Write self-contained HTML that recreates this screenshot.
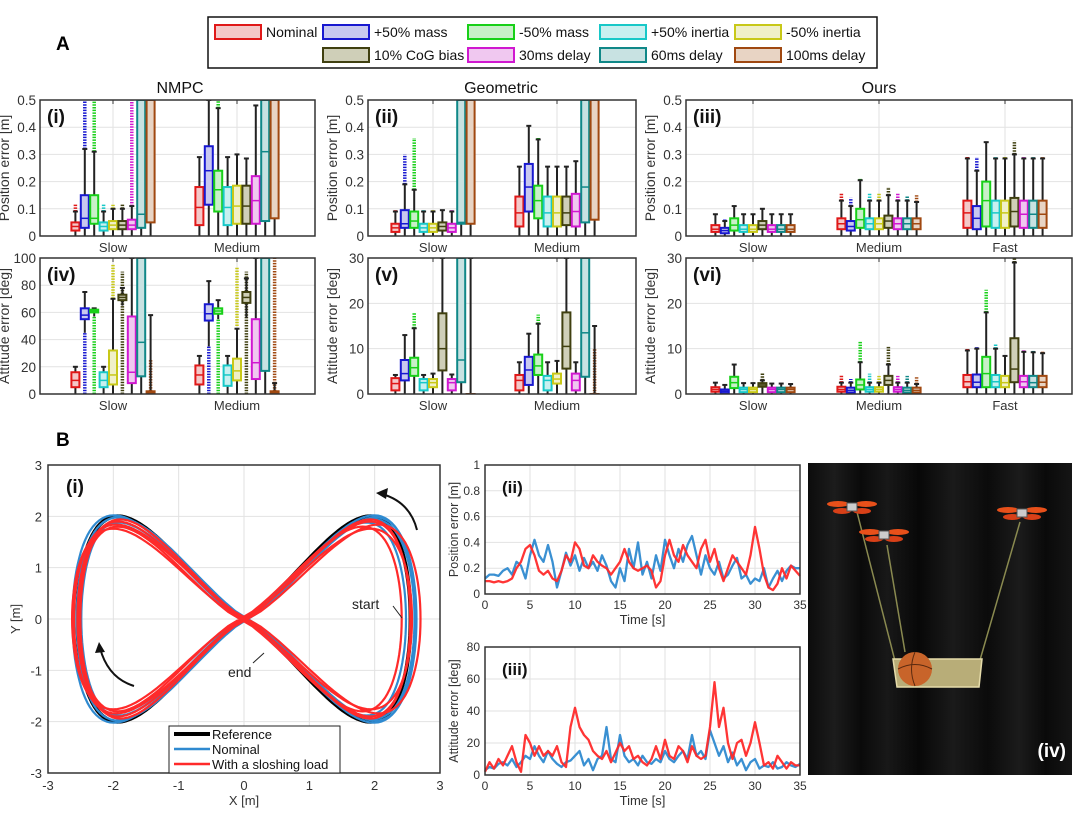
<!DOCTYPE html>
<html><head><meta charset="utf-8">
<style>
html,body{margin:0;padding:0;background:#fff;}
svg{display:block;font-family:"Liberation Sans","DejaVu Sans",sans-serif;}
</style></head>
<body>
<svg id="fig" width="1080" height="815" viewBox="0 0 1080 815" xmlns="http://www.w3.org/2000/svg">
<defs>
<linearGradient id="curtain" x1="0" x2="1" y1="0" y2="0">
<stop offset="0" stop-color="#0c0c0c"/><stop offset="0.1" stop-color="#1c1c1c"/><stop offset="0.2" stop-color="#0a0a0a"/><stop offset="0.3" stop-color="#181818"/><stop offset="0.42" stop-color="#080808"/><stop offset="0.55" stop-color="#1a1a1a"/><stop offset="0.68" stop-color="#0b0b0b"/><stop offset="0.8" stop-color="#1b1b1b"/><stop offset="0.9" stop-color="#0a0a0a"/><stop offset="1" stop-color="#151515"/>
</linearGradient>
</defs>
</svg>
<script>
// ====== DATA ======
const legendLabels = ["Nominal","+50% mass","-50% mass","+50% inertia","-50% inertia","10% CoG bias","30ms delay","60ms delay","100ms delay"];
const strokeColors = ["#e01818","#1818d0","#18d018","#18c8c8","#c8c818","#404010","#d018d0","#108888","#a04810"];
const fillColors = ["#f4c8c8","#c8c8f0","#c8f0c8","#c8f0f0","#f0f0c8","#cfcfb8","#f0c8f0","#c8e2e2","#e8d4c4"];
// each entry: [whiskerLow, q1, median, q3, whiskerHigh, outlierFrom, outlierTo]
const nmpcPos = [
 [[0,.02,.035,.05,.09,.09,.12],[0,.03,.065,.15,.32,.32,.5],[0,.045,.065,.15,.31,.31,.5],[0,.02,.035,.05,.09,.09,.12],[0,.025,.04,.055,.1,.1,.115],[0,.025,.04,.055,.1,.1,.12],[0,.025,.04,.06,.11,.11,.5],[0,.03,.08,.5,.5,0,0],[0,.05,.5,.5,.5,0,0]],
 [[0,.04,.105,.18,.29,0,0],[0,.115,.24,.33,.5,0,0],[0,.09,.17,.24,.47,.47,.5],[0,.04,.105,.18,.29,0,0],[0,.045,.11,.185,.3,0,0],[0,.045,.11,.185,.285,0,0],[0,.045,.13,.22,.48,0,0],[0,.055,.31,.5,.5,0,0],[0,.065,.5,.5,.5,0,0]]
];
const nmpcAtt = [
 [[0,5,10,16,20,0,0],[45,55,58,63,75,0,45],[57,60,61,62,63,0,57],[0,5,10,16,20,0,0],[0,7,14,32,70,70,95],[65,69,71,73,78,0,90],[0,8,16,57,100,0,0],[0,13,38,100,100,0,0],[0,0,1,2,58,0,25]],
 [[0,7,14,21,28,0,0],[35,54,59,66,83,0,35],[55,59,61,63,69,0,55],[0,6,14,21,28,0,0],[0,10,17,26,48,50,93],[56,67,71,75,85,0,90],[0,11,23,55,100,0,0],[0,17,100,100,100,0,0],[0,0,1,2,8,0,100]]
];
const geoPos = [
 [[0,.015,.03,.045,.09,.09,.095],[0,.03,.045,.095,.19,.19,.3],[0,.03,.055,.09,.17,.17,.36],[0,.015,.03,.045,.09,.09,.095],[0,.015,.03,.045,.09,.09,.095],[0,.02,.035,.05,.095,0,0],[0,.015,.03,.045,.09,.09,.095],[0,.045,.05,.5,.5,0,0],[0,.045,.5,.5,.5,0,0]],
 [[0,.035,.085,.145,.255,0,0],[0,.09,.18,.265,.405,0,0],[0,.065,.13,.185,.355,.355,.365],[0,.035,.085,.145,.255,0,0],[0,.035,.085,.145,.255,0,0],[0,.04,.085,.145,.255,0,0],[0,.035,.09,.155,.275,0,0],[0,.05,.18,.5,.5,0,0],[0,.06,.5,.5,.5,0,0]]
];
const geoAtt = [
 [[0,.8,2.3,3.5,4.2,0,0],[0,3,4.5,7.5,13,0,0],[0,4,5.8,8,14.5,14.5,18],[0,.8,2.5,3.3,4.2,0,0],[0,1.5,2.5,3.3,4.5,0,0],[0,5.2,10,17.8,30,0,0],[0,.8,2.5,3.3,4.3,0,0],[0,2.6,7.5,30,30,0,0],[0,0,0,0,30,0,0]],
 [[0,.8,3,4.2,7,0,0],[0,2,5.3,8.2,13.3,0,0],[0,4.2,6.2,8.7,15.5,15.5,17.5],[0,.8,3,4,7,0,0],[0,2.3,3.3,4.5,7.3,0,0],[0,5.6,10.5,18,30,0,0],[0,.8,3,4.5,7,0,0],[0,3.8,13.5,30,30,0,0],[0,0,0,0,15,0,10]]
];
const oursPos = [
 [[0,.015,.025,.04,.08,0,0],[0,.01,.02,.03,.055,.055,.065],[0,.02,.04,.065,.11,0,0],[0,.015,.025,.04,.08,0,0],[0,.015,.025,.04,.08,0,0],[0,.025,.04,.055,.1,0,0],[0,.015,.025,.04,.08,0,0],[0,.015,.025,.04,.08,0,0],[0,.015,.025,.04,.08,0,0]],
 [[0,.025,.045,.065,.13,.13,.16],[0,.02,.035,.055,.11,.11,.14],[0,.03,.06,.1,.205,.205,.21],[0,.025,.045,.065,.13,.13,.16],[0,.025,.045,.065,.13,.13,.16],[0,.03,.055,.075,.15,.15,.18],[0,.025,.045,.065,.13,.13,.16],[0,.025,.045,.065,.13,.13,.15],[0,.025,.045,.065,.125,.125,.15]],
 [[0,.03,.085,.13,.285,.285,.295],[0,.025,.065,.11,.24,.24,.29],[0,.035,.13,.2,.345,0,0],[0,.03,.085,.13,.285,.285,.29],[0,.03,.085,.13,.285,.285,.295],[0,.035,.09,.14,.3,.3,.35],[0,.03,.08,.13,.285,.285,.29],[0,.03,.08,.13,.285,.285,.29],[0,.03,.08,.13,.285,.285,.29]]
];
const oursAtt = [
 [[0,.5,1,1.5,2.5,0,0],[0,.2,.6,1,2,0,0],[0,1.3,2.5,3.8,6.5,0,0],[0,.4,1,1.4,2.4,0,0],[0,.4,1,1.4,2.4,0,0],[0,1.6,2,2.4,3,3,4.7],[0,.4,1,1.4,2.3,0,0],[0,.4,1,1.4,2.3,0,0],[0,.4,1,1.4,2.2,0,0]],
 [[0,.5,1,1.6,2.5,2.5,4.2],[0,.3,.8,1.4,2.5,2.5,3.3],[0,1,2,3.2,7,7,11.5],[0,.5,1,1.5,2.5,2.5,4.5],[0,.5,1,1.5,2.5,2.5,4],[0,2,3,4,6.5,6.5,10.5],[0,.5,1,1.5,2.5,2.5,4],[0,.3,.8,1.4,2.5,2.5,4],[0,.3,.8,1.4,2.2,2.2,3.7]],
 [[0,1.5,2.7,4.2,9.6,9.6,10],[0,1.5,2.6,4.3,10,10,10.5],[0,1.5,4.5,8.2,18,18,23],[0,1.5,2.7,4.2,10,10,11],[0,1.5,2.5,4,8.4,0,0],[0,2.6,5.5,12.3,29,29,30],[0,1.5,2.7,4,9.3,9.3,9.8],[0,1.5,2.5,4,9.2,9.2,9.5],[0,1.5,2.6,4,9,9,9.5]]
];
const posTicks = [0,0.1,0.2,0.3,0.4,0.5];
const attTicksBig = [0,20,40,60,80,100];
const attTicksSmall = [0,10,20,30];

const timeX = [];
for (let i = 0; i <= 70; i++) timeX.push(i * 0.5);
const posNominal = [.12,.15,.15,.14,.18,.2,.15,.25,.22,.12,.3,.42,.3,.25,.38,.25,.05,.18,.32,.22,.3,.18,.28,.2,.25,.18,.3,.22,.1,.05,.2,.1,.35,.2,.4,.15,.25,.12,.3,.18,.42,.3,.2,.35,.25,.38,.45,.3,.15,.3,.2,.15,.25,.12,.15,.22,.28,.12,.15,.08,.12,.1,.2,.05,.12,.18,.1,.18,.22,.2,.2];
const posSloshing = [.1,.1,.09,.1,.09,.1,.12,.2,.25,.35,.38,.3,.18,.15,.18,.12,.1,.18,.3,.25,.4,.35,.22,.2,.3,.25,.22,.2,.15,.2,.25,.35,.25,.2,.18,.2,.22,.18,.05,.1,.3,.42,.3,.25,.38,.3,.25,.2,.35,.42,.25,.35,.2,.1,.2,.3,.25,.2,.15,.3,.52,.35,.15,.05,.03,.08,.2,.12,.22,.18,.14];
const attNominal = [3,5,4,7,8,6,10,5,8,12,10,18,12,8,15,10,7,5,8,9,12,15,6,10,3,10,12,30,10,8,25,12,8,10,6,12,8,7,10,8,15,10,8,12,15,10,25,12,15,10,28,20,12,18,8,14,6,10,3,8,10,4,6,5,8,4,5,8,6,5,7];
const attSloshing = [2,8,4,10,6,12,18,8,2,25,20,12,18,12,15,12,18,8,5,30,42,30,25,22,15,12,10,15,8,14,20,15,18,10,12,8,6,10,18,10,22,12,10,18,15,8,18,12,10,12,30,58,30,42,20,10,20,22,12,20,33,20,6,8,4,12,8,4,8,6,6];
const posTicksT = [0,0.2,0.4,0.6,0.8,1];
const attTicksT = [0,20,40,60,80];
const timeTicks = [0,5,10,15,20,25,30,35];

// figure-8 reference amplitudes and loop perturbations
const refAmp = [2.55, 2.0];
const nomLoopSx = [1.02, 0.98, 1.0, 1.03];
const nomLoopSy = [0.99, 0.94, 0.97, 1.01];
const nomLoopDx = [0.04, -0.02, 0.06, 0.0];
const slLoopSx = [1.0, 0.97, 1.04, 0.99, 1.02];
const slLoopSy = [0.95, 0.9, 0.92, 0.97, 0.88];
const slLoopDx = [0.0, -0.06, 0.05, 0.02, -0.03];
const xyTicks = [-3,-2,-1,0,1,2,3];

// ====== DRAW HELPERS ======
const svg = document.getElementById('fig');
const NS = 'http://www.w3.org/2000/svg';
function el(tag, attrs, parent) {
  const e = document.createElementNS(NS, tag);
  for (const k in attrs) e.setAttribute(k, attrs[k]);
  (parent || svg).appendChild(e);
  return e;
}
function txt(s, attrs, parent) { const t = el('text', attrs, parent); t.textContent = s; return t; }
let clipId = 0;

function boxPanel(name, x0, x1, y0, y1, ymin, ymax, ticks, cats, catX, groups, ylabel, tag) {
  const g = el('g', {});
  
  
  const Y = v => y1 - (Math.max(ymin, Math.min(ymax, v)) - ymin) / (ymax - ymin) * (y1 - y0);
  const cid = 'c' + (clipId++);
  const cp = el('clipPath', {id: cid}, g); el('rect', {x: x0, y: y0, width: x1 - x0, height: y1 - y0}, cp);
  el('rect', {x: x0, y: y0, width: x1 - x0, height: y1 - y0, fill: '#fff'}, g);
  ticks.forEach(t => {
    el('line', {x1: x0, x2: x1, y1: Y(t), y2: Y(t), stroke: '#e2e2e2', 'stroke-width': 1}, g);
    const tl = txt(String(t), {x: x0 - 4, y: Y(t) + 5, 'text-anchor': 'end', 'font-size': 13.5, fill: '#333'}, g);
    
    
  });
  catX.forEach((cx, i) => {
    el('line', {x1: cx, x2: cx, y1: y0, y2: y1, stroke: '#e2e2e2', 'stroke-width': 1}, g);
    el('line', {x1: cx, x2: cx, y1: y0, y2: y0 + 4, stroke: '#333', 'stroke-width': 1}, g);
    const cl = txt(cats[i], {x: cx, y: y1 + 16, 'text-anchor': 'middle', 'font-size': 13, fill: '#333'}, g);
    
    
  });
  const inner = el('g', {'clip-path': 'url(#' + cid + ')'}, g);
  groups.forEach((grp, gi) => {
    grp.forEach((d, k) => {
      const bx = catX[gi] + (k - 4) * 9.4;
      const c = strokeColors[k];
      const bg = el('g', {}, inner);
      
      
      if (d[6] > d[5]) el('line', {x1: bx, x2: bx, y1: Y(d[5]), y2: Y(d[6]), stroke: c, 'stroke-width': 3.5, 'stroke-dasharray': '1.5 1.2'}, bg);
      el('line', {x1: bx, x2: bx, y1: Y(d[0]), y2: Y(d[4]), stroke: '#222', 'stroke-width': 2}, bg);
      el('line', {x1: bx - 2.5, x2: bx + 2.5, y1: Y(d[4]), y2: Y(d[4]), stroke: '#222', 'stroke-width': 2}, bg);
      el('rect', {x: bx - 4, y: Y(d[3]), width: 8, height: Math.max(0.5, Y(d[1]) - Y(d[3])), fill: fillColors[k], stroke: c, 'stroke-width': 2}, bg);
      el('line', {x1: bx - 4, x2: bx + 4, y1: Y(d[2]), y2: Y(d[2]), stroke: c, 'stroke-width': 1.5}, bg);
    });
  });
  el('rect', {x: x0, y: y0, width: x1 - x0, height: y1 - y0, fill: 'none', stroke: '#333', 'stroke-width': 1.5}, g);
  const yl = txt(ylabel, {x: 0, y: 0, transform: 'translate(' + (x0 - 31) + ',' + ((y0 + y1) / 2) + ') rotate(-90)', 'text-anchor': 'middle', 'font-size': 14, fill: '#333'}, g);
  
  
  const tg = txt(tag, {x: x0 + 7, y: y0 + 23, 'font-size': 19, 'font-weight': 'bold', fill: '#111'}, g);
  
  
}

// ====== PANEL A ======
const A = txt('A', {x: 56, y: 50, 'font-size': 19, 'font-weight': 'bold'});
 
// legend
const lg = el('g', {});
 
el('rect', {x: 208, y: 17, width: 669, height: 51, fill: '#fff', stroke: '#111', 'stroke-width': 1.5}, lg);
const legPos = [[215,25],[323,25],[468,25],[600,25],[735,25],[323,48],[468,48],[600,48],[735,48]];
legendLabels.forEach((s, i) => {
  const e = el('g', {}, lg);
  
  
  el('rect', {x: legPos[i][0], y: legPos[i][1], width: 46, height: 14, fill: fillColors[i], stroke: strokeColors[i], 'stroke-width': 2}, e);
  txt(s, {x: legPos[i][0] + 51, y: legPos[i][1] + 12, 'font-size': 14, fill: '#111'}, e);
});
[['NMPC',180],['Geometric',501],['Ours',879]].forEach(p => {
  const t = txt(p[0], {x: p[1], y: 93, 'text-anchor': 'middle', 'font-size': 16, fill: '#111'});
   
});
boxPanel('nmpc-position-chart', 40, 315, 100, 236, 0, 0.5, posTicks, ['Slow','Medium'], [113, 237], nmpcPos, 'Position error [m]', '(i)');
boxPanel('geometric-position-chart', 368, 636, 100, 236, 0, 0.5, posTicks, ['Slow','Medium'], [433, 557], geoPos, 'Position error [m]', '(ii)');
boxPanel('ours-position-chart', 686, 1072, 100, 236, 0, 0.5, posTicks, ['Slow','Medium','Fast'], [753, 879, 1005], oursPos, 'Position error [m]', '(iii)');
boxPanel('nmpc-attitude-chart', 40, 315, 258, 394, 0, 100, attTicksBig, ['Slow','Medium'], [113, 237], nmpcAtt, 'Attitude error [deg]', '(iv)');
boxPanel('geometric-attitude-chart', 368, 636, 258, 394, 0, 30, attTicksSmall, ['Slow','Medium'], [433, 557], geoAtt, 'Attitude error [deg]', '(v)');
boxPanel('ours-attitude-chart', 686, 1072, 258, 394, 0, 30, attTicksSmall, ['Slow','Medium','Fast'], [753, 879, 1005], oursAtt, 'Attitude error [deg]', '(vi)');

// ====== PANEL B ======
const B = txt('B', {x: 56, y: 446, 'font-size': 19, 'font-weight': 'bold'});
 

// (i) trajectory
(function(){
  const x0 = 48, x1 = 440, y0 = 465, y1 = 773;
  const X = v => x0 + (v + 3) / 6 * (x1 - x0);
  const Y = v => y1 - (v + 3) / 6 * (y1 - y0);
  const g = el('g', {});
   
  el('rect', {x: x0, y: y0, width: x1 - x0, height: y1 - y0, fill: '#fff'}, g);
  xyTicks.forEach(t => {
    el('line', {x1: X(t), x2: X(t), y1: y0, y2: y1, stroke: '#e2e2e2'}, g);
    el('line', {x1: x0, x2: x1, y1: Y(t), y2: Y(t), stroke: '#e2e2e2'}, g);
    txt(String(t), {x: X(t), y: y1 + 17, 'text-anchor': 'middle', 'font-size': 13, fill: '#333'}, g);
    txt(String(t), {x: x0 - 6, y: Y(t) + 5, 'text-anchor': 'end', 'font-size': 13, fill: '#333'}, g);
  });
  function loop(sx, sy, dx, color, w, name) {
    let d = '';
    for (let i = 0; i <= 160; i++) {
      const t = i / 160 * 2 * Math.PI;
      const s = Math.sin(t);
      const px = refAmp[0] * sx * Math.sign(s) * Math.pow(Math.abs(s), 0.8) + dx;
      const py = refAmp[1] * sy * Math.sin(2 * t);
      d += (i ? 'L' : 'M') + X(px).toFixed(1) + ',' + Y(py).toFixed(1);
    }
    const p = el('path', {d: d, fill: 'none', stroke: color, 'stroke-width': w, 'stroke-linejoin': 'round'}, g);
    
    
  }
  loop(1, 1, 0, '#000', 4, 'reference-line');
  nomLoopSx.forEach((s, i) => loop(s, nomLoopSy[i], nomLoopDx[i], '#2f8ad0', 2.2, 'nominal-line'));
  slLoopSx.forEach((s, i) => loop(s, slLoopSy[i], slLoopDx[i], '#ff2a2a', 2.2, 'sloshing-line'));
  el('rect', {x: x0, y: y0, width: x1 - x0, height: y1 - y0, fill: 'none', stroke: '#333', 'stroke-width': 1.5}, g);
  // arrows
  el('path', {d: 'M417,530 Q410,502 382,494', fill: 'none', stroke: '#111', 'stroke-width': 2}, g);
  el('path', {d: 'M376,493 L388,488 L386,499 Z', fill: '#111'}, g);
  el('path', {d: 'M134,686 Q108,678 100,648', fill: 'none', stroke: '#111', 'stroke-width': 2}, g);
  el('path', {d: 'M99,642 L95,653 L105,652 Z', fill: '#111'}, g);
  txt('start', {x: 352, y: 609, 'font-size': 14, fill: '#222'}, g);
  el('line', {x1: 393, y1: 606, x2: 402, y2: 618, stroke: '#222', 'stroke-width': 1}, g);
  txt('end', {x: 228, y: 677, 'font-size': 14, fill: '#222'}, g);
  el('line', {x1: 253, y1: 663, x2: 264, y2: 653, stroke: '#222', 'stroke-width': 1}, g);
  txt('(i)', {x: x0 + 18, y: y0 + 28, 'font-size': 19, 'font-weight': 'bold', fill: '#111'}, g);
  const xt = txt('X [m]', {x: 244, y: 805, 'text-anchor': 'middle', 'font-size': 13, fill: '#333'}, g);
   
  const yt = txt('Y [m]', {x: 0, y: 0, transform: 'translate(20,619) rotate(-90)', 'text-anchor': 'middle', 'font-size': 13, fill: '#333'}, g);
   
  const lgd = el('g', {}, g);
   
  el('rect', {x: 169, y: 726, width: 171, height: 47, fill: '#fff', stroke: '#222', 'stroke-width': 1}, lgd);
  [['Reference','#000',4],['Nominal','#2f8ad0',2.5],['With a sloshing load','#ff2a2a',2.5]].forEach((e, i) => {
    el('line', {x1: 174, x2: 210, y1: 734 + i * 15, y2: 734 + i * 15, stroke: e[1], 'stroke-width': e[2]}, lgd);
    txt(e[0], {x: 212, y: 739 + i * 15, 'font-size': 13, fill: '#111'}, lgd);
  });
})();

function timePanel(name, y0, y1, ymax, ticks, a, b, ylabel, tag) {
  const x0 = 485, x1 = 800;
  const X = v => x0 + v / 35 * (x1 - x0);
  const Y = v => y1 - v / ymax * (y1 - y0);
  const g = el('g', {});
   
  el('rect', {x: x0, y: y0, width: x1 - x0, height: y1 - y0, fill: '#fff'}, g);
  timeTicks.forEach(t => {
    el('line', {x1: X(t), x2: X(t), y1: y0, y2: y1, stroke: '#e2e2e2'}, g);
    txt(String(t), {x: X(t), y: y1 + 15, 'text-anchor': 'middle', 'font-size': 12, fill: '#333'}, g);
  });
  ticks.forEach(t => {
    el('line', {x1: x0, x2: x1, y1: Y(t), y2: Y(t), stroke: '#e2e2e2'}, g);
    txt(String(t), {x: x0 - 5, y: Y(t) + 4, 'text-anchor': 'end', 'font-size': 12, fill: '#333'}, g);
  });
  [[a, '#2f8ad0', 'nominal-line'], [b, '#ff2a2a', 'sloshing-line']].forEach(s => {
    const d = s[0].map((v, i) => (i ? 'L' : 'M') + X(timeX[i]).toFixed(1) + ',' + Y(v).toFixed(1)).join('');
    const p = el('path', {d: d, fill: 'none', stroke: s[1], 'stroke-width': 2.3, 'stroke-linejoin': 'round', opacity: 0.95}, g);
     
  });
  el('rect', {x: x0, y: y0, width: x1 - x0, height: y1 - y0, fill: 'none', stroke: '#333', 'stroke-width': 1.5}, g);
  txt('Time [s]', {x: (x0 + x1) / 2, y: y1 + 30, 'text-anchor': 'middle', 'font-size': 13, fill: '#333'}, g);
  txt(ylabel, {x: 0, y: 0, transform: 'translate(' + (x0 - 27) + ',' + ((y0 + y1) / 2) + ') rotate(-90)', 'text-anchor': 'middle', 'font-size': 12.5, fill: '#333'}, g);
  txt(tag, {x: x0 + 17, y: y0 + 28, 'font-size': 17, 'font-weight': 'bold', fill: '#111'}, g);
}
timePanel('position-time-chart', 465, 594, 1, posTicksT, posNominal, posSloshing, 'Position error [m]', '(ii)');
timePanel('attitude-time-chart', 647, 775, 80, attTicksT, attNominal, attSloshing, 'Attitude error [deg]', '(iii)');

// (iv) photo
(function(){
  const g = el('g', {});
   
  el('rect', {x: 808, y: 463, width: 264, height: 312, fill: 'url(#curtain)'}, g);
  el('line', {x1: 857, y1: 512, x2: 895, y2: 661, stroke: '#8a8a50', 'stroke-width': 1.5}, g);
  el('line', {x1: 887, y1: 545, x2: 905, y2: 652, stroke: '#8a8a50', 'stroke-width': 1.5}, g);
  el('line', {x1: 1020, y1: 522, x2: 980, y2: 660, stroke: '#8a8a50', 'stroke-width': 1.5}, g);
  [[852,507],[884,535],[1022,513]].forEach(p => {
    const d = el('g', {}, g);
     
    el('ellipse', {cx: p[0] - 14, cy: p[1] - 3, rx: 11, ry: 3, fill: '#e8501a'}, d);
    el('ellipse', {cx: p[0] + 14, cy: p[1] - 3, rx: 11, ry: 3, fill: '#e8501a'}, d);
    el('ellipse', {cx: p[0] - 10, cy: p[1] + 4, rx: 9, ry: 3, fill: '#d84018'}, d);
    el('ellipse', {cx: p[0] + 10, cy: p[1] + 4, rx: 9, ry: 3, fill: '#d84018'}, d);
    el('rect', {x: p[0] - 5, y: p[1] - 4, width: 10, height: 8, fill: '#ccc', stroke: '#555'}, d);
  });
  el('path', {d: 'M893,659 L982,659 L979,687 L897,687 Z', fill: '#b8ad78', stroke: '#e6dcaa', 'stroke-width': 1.5}, g);
  el('circle', {cx: 915, cy: 669, r: 17, fill: '#c8642a'}, g);
  el('path', {d: 'M898,669 Q915,660 932,669 M915,652 Q908,669 915,686', fill: 'none', stroke: '#5a2a10', 'stroke-width': 1}, g);
  txt('(iv)', {x: 1066, y: 757, 'text-anchor': 'end', 'font-size': 19, 'font-weight': 'bold', fill: '#fff'}, g);
})();
</script>
</body></html>
